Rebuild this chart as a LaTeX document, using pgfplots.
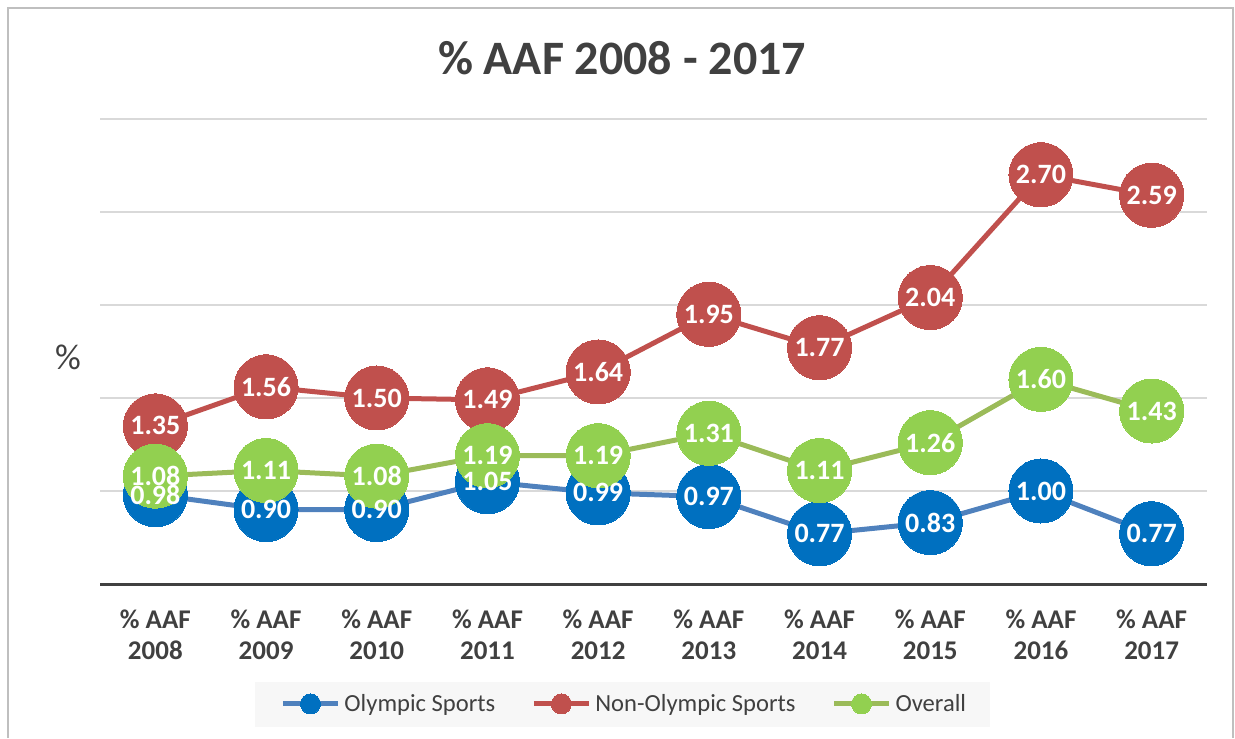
\documentclass[border=0pt]{standalone}
\usepackage{pgfplots}
\pgfplotsset{compat=1.18}
\usepackage{fontspec}
\setmainfont{Carlito}
\definecolor{olyM}{HTML}{0070C0}
\definecolor{olyL}{HTML}{4F81BD}
\definecolor{redM}{HTML}{C0504D}
\definecolor{redL}{HTML}{C0504D}
\definecolor{grnM}{HTML}{92D050}
\definecolor{grnL}{HTML}{9BBB59}
\definecolor{gridgray}{HTML}{D9D9D9}
\definecolor{axisgray}{HTML}{404040}
\definecolor{textgray}{HTML}{404040}
\definecolor{bordergray}{HTML}{BFBFBF}
\definecolor{legbg}{HTML}{F7F7F7}
\begin{document}
\begin{tikzpicture}
\useasboundingbox (0,0) rectangle (617.5pt,369pt);
\draw[bordergray, line width=1pt] (4pt,0pt) -- (4pt,365pt) -- (616.5pt,365pt) -- (616.5pt,0pt);
\fill[legbg] (127.5pt,5.5pt) rectangle (495pt,28pt);
\node[text=textgray, font=\bfseries\fontsize{24}{28}\selectfont] at (311pt,340pt) {\% AAF 2008 - 2017};
\node[text=textgray, font=\fontsize{18}{22}\selectfont] at (34pt,190.5pt) {\%};
\begin{axis}[
  at={(50pt,77pt)}, anchor=south west,
  scale only axis, width=553.5pt, height=232.5pt,
  xmin=-0.5, xmax=9.5, ymin=0.5, ymax=3.0,
  clip=false,
  axis x line*=bottom, axis y line*=left,
  y axis line style={draw=none},
  x axis line style={draw=axisgray, line width=1.5pt},
  major tick length=0pt,
  ytick={1,1.5,2,2.5,3}, yticklabels={},
  ymajorgrids, grid style={draw=gridgray, line width=1pt},
  xtick={0,...,9},
  xticklabels={{\% AAF\\2008},{\% AAF\\2009},{\% AAF\\2010},{\% AAF\\2011},{\% AAF\\2012},{\% AAF\\2013},{\% AAF\\2014},{\% AAF\\2015},{\% AAF\\2016},{\% AAF\\2017}},
  xticklabel style={font=\bfseries\fontsize{13.5}{15.5}\selectfont, align=center, text=textgray, yshift=-9.5pt},
  legend style={at={(0.4745,-0.258)}, anchor=center, legend columns=3, fill=none, draw=none,
    font=\fontsize{12.3}{14}\selectfont, text=textgray,
    /tikz/every even column/.append style={column sep=16pt}},
  legend image code/.code={
    \draw[#1, mark=none] (0pt,0pt) -- (27.5pt,0pt);
    \draw[#1, mark size=5pt] plot coordinates {(13.75pt,0pt)};
  },
  every axis plot/.append style={line width=2.5pt},
  nodes near coords style={anchor=center, text=white, font=\bfseries\fontsize{14}{16}\selectfont,
    /pgf/number format/.cd, fixed, fixed zerofill, precision=2, assume math mode=true},
]
\addplot[color=olyL, mark=*, mark size=16pt, mark options={fill=olyM, draw=olyM, line width=0pt}]
  coordinates {(0,0.98)(1,0.90)(2,0.90)(3,1.05)(4,0.99)(5,0.97)(6,0.77)(7,0.83)(8,1.00)(9,0.77)};
\addlegendentry{Olympic Sports}
\addplot[color=redL, mark=*, mark size=16pt, mark options={fill=redM, draw=redM, line width=0pt}]
  coordinates {(0,1.35)(1,1.56)(2,1.50)(3,1.49)(4,1.64)(5,1.95)(6,1.77)(7,2.04)(8,2.70)(9,2.59)};
\addlegendentry{Non-Olympic Sports}
\addplot[color=grnL, mark=*, mark size=16pt, mark options={fill=grnM, draw=grnM, line width=0pt}]
  coordinates {(0,1.08)(1,1.11)(2,1.08)(3,1.19)(4,1.19)(5,1.31)(6,1.11)(7,1.26)(8,1.60)(9,1.43)};
\addlegendentry{Overall}
\addplot[draw=none, mark=none, forget plot, nodes near coords, point meta=y]
  coordinates {(0,0.98)(1,0.90)(2,0.90)(3,1.05)(4,0.99)(5,0.97)(6,0.77)(7,0.83)(8,1.00)(9,0.77)};
\addplot[draw=none, mark=none, forget plot, nodes near coords, point meta=y]
  coordinates {(0,1.35)(1,1.56)(2,1.50)(3,1.49)(4,1.64)(5,1.95)(6,1.77)(7,2.04)(8,2.70)(9,2.59)};
\addplot[draw=none, mark=none, forget plot, nodes near coords, point meta=y]
  coordinates {(0,1.08)(1,1.11)(2,1.08)(3,1.19)(4,1.19)(5,1.31)(6,1.11)(7,1.26)(8,1.60)(9,1.43)};
\end{axis}
\end{tikzpicture}
\end{document}
